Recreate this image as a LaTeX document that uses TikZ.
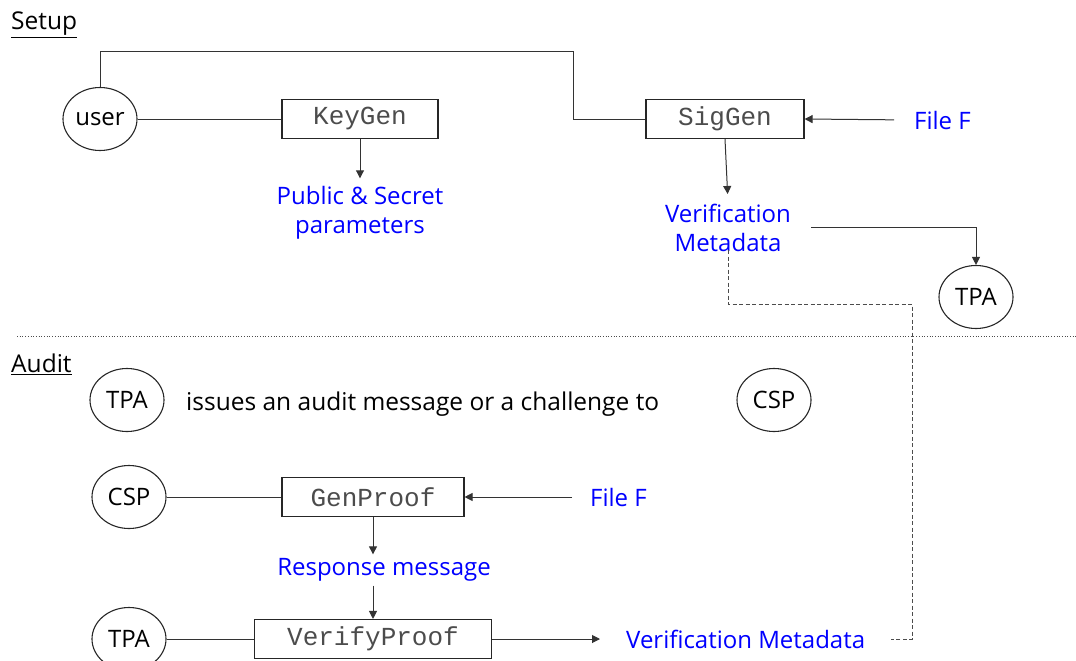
\documentclass[tikz,border=0pt]{standalone}
\usepackage{fontspec}
\setmainfont{Open Sans}
\newfontfamily\monof{Liberation Mono}
\usetikzlibrary{arrows.meta,shapes.geometric}
\tikzset{
 actor/.style={draw=black!85, line width=1.1pt, ellipse, minimum width=74pt, minimum height=63pt, inner sep=0pt, font=\fontsize{24}{28}\selectfont},
 fnbox/.style={draw=black!85, line width=1.1pt, rectangle, minimum height=39pt, inner sep=0pt, font=\monof\fontsize{26}{28}\selectfont, text=black!70},
 bluetext/.style={text=blue, font=\fontsize{24}{29}\selectfont, align=center, inner sep=2pt},
 plaintext/.style={text=black, font=\fontsize{24.5}{28}\selectfont, inner sep=0pt},
 heading/.style={text=black, font=\fontsize{24.5}{28}\selectfont, inner sep=0pt, anchor=west},
 conn/.style={draw=black!80, line width=1pt},
 arr/.style={conn, -{Triangle[width=8pt,length=8pt]}},
 dashconn/.style={draw=black!70, line width=1pt, dash pattern=on 4pt off 2.5pt},
 sepline/.style={draw=black!70, line width=0.7pt, dotted}
}
\begin{document}
\begin{tikzpicture}[x=1pt,y=-1pt]
\useasboundingbox (0,0) rectangle (1076,661);
\clip (0,0) rectangle (1076,661);
% headings
\node[heading] (setup) at (11,25) {\underline{Setup}};
\node[heading] (audit) at (11,364) {\underline{Audit}};
\draw[sepline] (17,336) -- (1076,336);
% setup
\node[actor] (user) at (100,119) {user};
\node[fnbox, minimum width=156pt] (key) at (360,119) {KeyGen};
\node[fnbox, minimum width=158pt] (sig) at (725,119) {SigGen};
\node[bluetext] (pub) at (360,213) {Public \& Secret\\parameters};
\node[bluetext, anchor=west] (file1) at (912,120) {File F};
\node[bluetext] (vm) at (728,228) {Verification\\Metadata};
\node[actor] (tpa1) at (976,297) {TPA};
\coordinate (c1) at (573,52);
\coordinate (d1) at (912,304);
\draw[conn] (user.east) -- (key.west);
\draw[conn] (user.north) |- (c1) |- (sig.west);
\draw[arr, shorten >=6pt] (key.south) -- (pub.north);
\draw[arr, shorten <=18pt] (file1.west) -- (sig.east);
\draw[arr, shorten >=8pt] (sig.south) -- (vm.north);
\draw[arr] ([xshift=18pt,yshift=1pt]vm.east) -| (tpa1.north);
% audit
\node[actor] (tpa2) at (127,400) {TPA};
\node[plaintext, anchor=west] (issue) at (186,404) {issues an audit message or a challenge to};
\node[actor] (csp1) at (774,400) {CSP};
\node[actor] (csp2) at (129,497) {CSP};
\node[fnbox, minimum width=182pt] (gp) at (373,497) {GenProof};
\node[bluetext, anchor=west] (file2) at (588,497) {File F};
\node[bluetext] (resp) at (384,570) {Response message};
\node[actor] (tpa3) at (129,639) {TPA};
\node[fnbox, minimum width=237pt] (vp) at (373,639) {VerifyProof};
\node[bluetext, anchor=west] (vm2) at (624,639) {Verification Metadata};
\draw[conn] (csp2.east) -- (gp.west);
\draw[arr, shorten <=16pt] (file2.west) -- (gp.east);
\draw[arr, shorten >=2pt] (gp.south) -- (gp.south |- resp.north);
\draw[arr, shorten <=2pt] (gp.south |- resp.south) -- (vp.north);
\draw[conn] (tpa3.east) -- (vp.west);
\draw[arr, shorten >=24pt] (vp.east) -- (vm2.west);
\draw[dashconn] ([yshift=4pt]vm.south) |- (d1) |- ([xshift=24pt]vm2.east);
\end{tikzpicture}
\end{document}
